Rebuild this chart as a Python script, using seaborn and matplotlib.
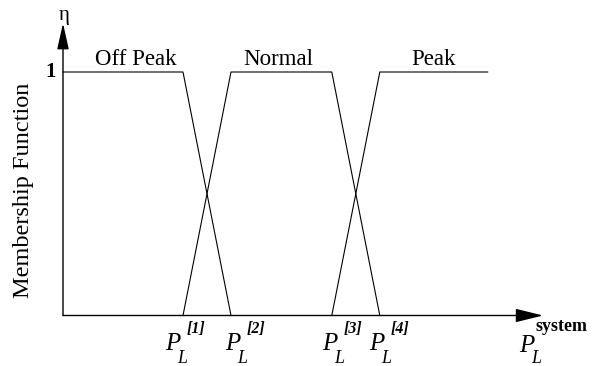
import matplotlib
matplotlib.use("Agg")
import matplotlib.pyplot as plt
from matplotlib.transforms import offset_copy
import pandas as pd
import seaborn as sns

# Breakpoints of the load axis and their tags
p_breaks = [2.5, 3.5, 5.6, 6.6]
p_tags = ["[1]", "[2]", "[3]", "[4]"]

# Membership functions (load value, membership degree)
set_names = ["Off Peak", "Normal", "Peak"]
off_peak_x = [0.0, 2.5, 3.5]
off_peak_mu = [1.0, 1.0, 0.0]
normal_x = [2.5, 3.5, 5.6, 6.6]
normal_mu = [0.0, 1.0, 1.0, 0.0]
peak_x = [5.6, 6.6, 8.85]
peak_mu = [0.0, 1.0, 1.0]

x_axis_end = 10.0
eta_axis_end = 1.2

sns.set_theme(style="white")
plt.rcParams["font.family"] = ["Liberation Serif", "DejaVu Serif"]
plt.rcParams["text.color"] = "black"

fig = plt.figure(figsize=(5.99, 3.66), dpi=100)
ax = fig.add_axes([0, 0, 1, 1])
ax.set_xlim(-1.3125, 11.1667)
ax.set_ylim(-0.2074, 1.2957)
ax.axis("off")

frames = []
for name, xs, ys in zip(set_names,
                        [off_peak_x, normal_x, peak_x],
                        [off_peak_mu, normal_mu, peak_mu]):
    frames.append(pd.DataFrame({"load": xs, "mu": ys, "set": name}))
df = pd.concat(frames, ignore_index=True)

sns.lineplot(data=df, x="load", y="mu", hue="set", units="set",
             estimator=None, sort=False, legend=False,
             palette=["black"] * len(set_names), linewidth=0.8, ax=ax)

# Axes drawn as arrows
arrow = dict(arrowstyle="-|>,head_length=1.7,head_width=0.42", color="black",
             lw=1.0, shrinkA=0, shrinkB=0, mutation_scale=10)
ax.annotate("", xy=(x_axis_end, 0), xytext=(0, 0), arrowprops=arrow)
arrow_v = dict(arrow, arrowstyle="-|>,head_length=1.6,head_width=0.36")
ax.annotate("", xy=(0, eta_axis_end), xytext=(0, 0), arrowprops=arrow_v)

# Set names above the plateaus
name_x = [1.52, 4.48, 7.71]
for name, x in zip(set_names, name_x):
    ax.text(x, 1.029, name, ha="center", va="baseline", fontsize=16.5,
            color="black")

# Vertical axis annotations
ax.text(0.02, 1.234, "η", ha="center", va="center", fontsize=15,
        color="black")
ax.text(-0.145, 1.0, "1", ha="right", va="center", fontsize=15,
        fontweight="bold", color="black")
ax.text(-0.83, 0.515, "Membership Function", ha="center", va="center",
        rotation=90, fontsize=17.5, color="black")


def at(dx, dy):
    return offset_copy(ax.transData, fig=fig, x=dx, y=dy, units="dots")


def load_label(x, tag, left, sup_dx, sup_dy, p_dy, l_dy, sup_style):
    ax.text(x, 0, "P", transform=at(left, p_dy), ha="left",
            va="baseline", fontsize=18, fontstyle="italic", color="black")
    ax.text(x, 0, "L", transform=at(left + 12, l_dy), ha="left",
            va="baseline", fontsize=13, fontstyle="italic", color="black")
    ax.text(x, 0, tag, transform=at(left + sup_dx, sup_dy), ha="left",
            va="baseline", color="black", **sup_style)


label_left = [-18, -6, -10, -11]
for x, tag, left in zip(p_breaks, p_tags, label_left):
    load_label(x, tag, left, 22, -17.5, -34.5, -48.0,
               dict(fontsize=11.5, fontweight="bold", fontstyle="italic"))

load_label(x_axis_end, "system", -24, 17, -15.5, -36.5, -48.0,
           dict(fontsize=13, fontweight="bold"))

fig.savefig("out.png", dpi=100)
